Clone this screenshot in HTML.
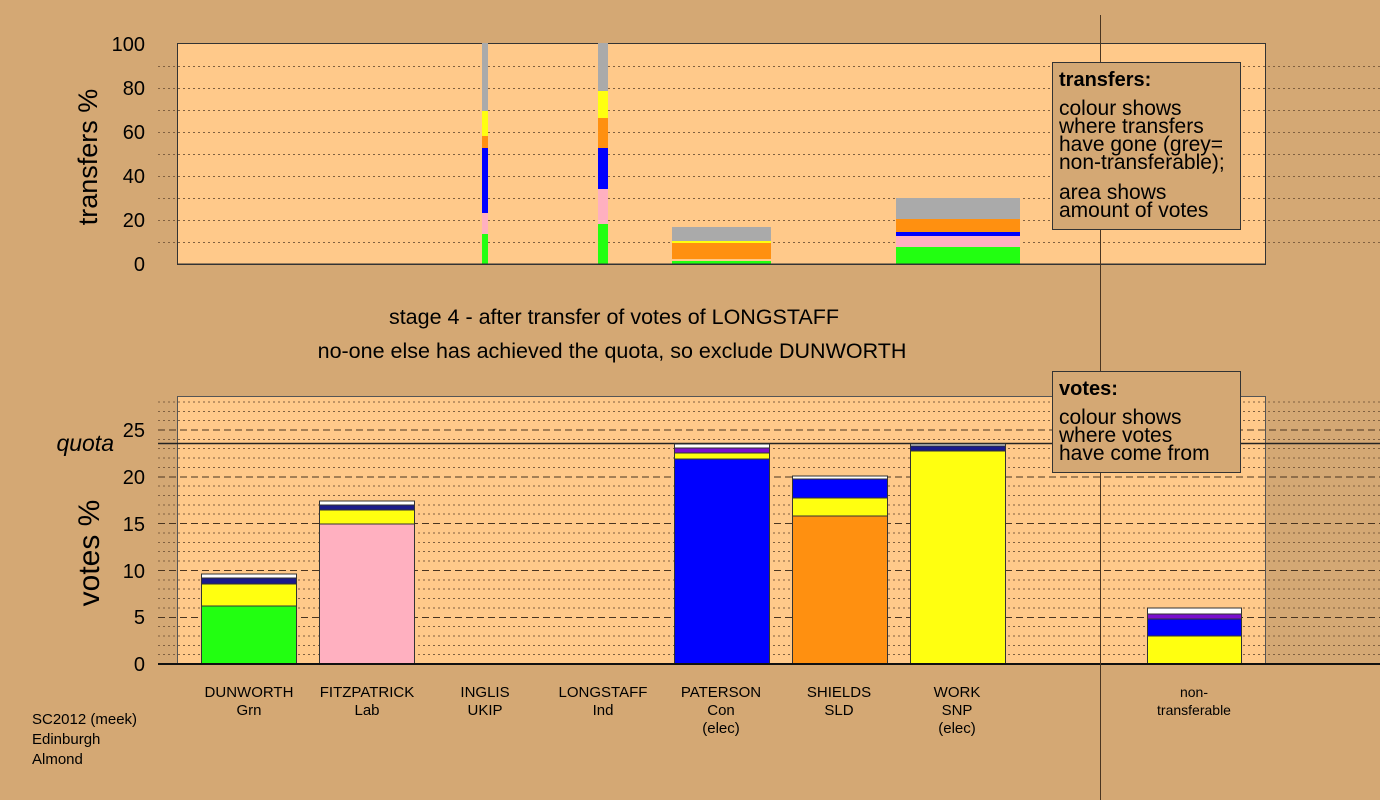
<!DOCTYPE html>
<html><head><meta charset="utf-8"><style>
html,body{margin:0;padding:0;background:#d4a874;}
svg{display:block;font-family:"Liberation Sans",sans-serif;}
</style></head><body>
<svg width="1380" height="800" viewBox="0 0 1380 800" xmlns="http://www.w3.org/2000/svg">
<rect width="1380" height="800" fill="#d4a874"/>
<rect x="177" y="43" width="1088" height="221" fill="#ffc98a"/>
<g stroke="#806040" stroke-width="1" stroke-dasharray="2,3">
<line x1="158" x2="1380" y1="242.5" y2="242.5"/><line x1="158" x2="1380" y1="220.5" y2="220.5"/>
<line x1="158" x2="1380" y1="198.5" y2="198.5"/><line x1="158" x2="1380" y1="176.5" y2="176.5"/>
<line x1="158" x2="1380" y1="154.5" y2="154.5"/><line x1="158" x2="1380" y1="132.5" y2="132.5"/>
<line x1="158" x2="1380" y1="110.5" y2="110.5"/><line x1="158" x2="1380" y1="88.5" y2="88.5"/>
<line x1="158" x2="1380" y1="66.5" y2="66.5"/>
</g>
<rect x="177.5" y="43.5" width="1088" height="221" fill="none" stroke="#333" stroke-width="1"/>
<rect x="482" y="234" width="6" height="30" fill="#22ff11"/>
<rect x="482" y="213" width="6" height="21" fill="#ffb0c0"/>
<rect x="482" y="148" width="6" height="65" fill="#0000ff"/>
<rect x="482" y="136" width="6" height="12" fill="#ff9010"/>
<rect x="482" y="111" width="6" height="25" fill="#ffff10"/>
<rect x="482" y="43" width="6" height="68" fill="#aaaaaa"/>
<rect x="598" y="224" width="10" height="40" fill="#22ff11"/>
<rect x="598" y="189" width="10" height="35" fill="#ffb0c0"/>
<rect x="598" y="148" width="10" height="41" fill="#0000ff"/>
<rect x="598" y="118" width="10" height="30" fill="#ff9010"/>
<rect x="598" y="91" width="10" height="27" fill="#ffff10"/>
<rect x="598" y="43" width="10" height="48" fill="#aaaaaa"/>
<rect x="672" y="261" width="99" height="3" fill="#22ff11"/>
<rect x="672" y="243" width="99" height="16" fill="#ff9010"/>
<rect x="672" y="241" width="99" height="2" fill="#ffff10"/>
<rect x="672" y="227" width="99" height="14" fill="#aaaaaa"/>
<rect x="896" y="247" width="124" height="17" fill="#22ff11"/>
<rect x="896" y="236" width="124" height="11" fill="#ffb0c0"/>
<rect x="896" y="232" width="124" height="4" fill="#0000ff"/>
<rect x="896" y="219" width="124" height="13" fill="#ff9010"/>
<rect x="896" y="198" width="124" height="21" fill="#aaaaaa"/>
<line x1="177" x2="1265" y1="264" y2="264" stroke="#333"/>
<g font-size="20" text-anchor="end" fill="#000">
<text x="145" y="271">0</text><text x="145" y="227">20</text><text x="145" y="183">40</text>
<text x="145" y="139">60</text><text x="145" y="95">80</text><text x="145" y="51">100</text>
</g>
<text transform="translate(97,157) rotate(-90)" font-size="27" text-anchor="middle">transfers %</text>
<text x="614" y="324" font-size="21.5" text-anchor="middle">stage 4 - after transfer of votes of LONGSTAFF</text>
<text x="612" y="358" font-size="21.5" text-anchor="middle">no-one else has achieved the quota, so exclude DUNWORTH</text>
<rect x="177" y="396" width="1088" height="268" fill="#ffc98a"/>
<g stroke="#806040" stroke-width="1" stroke-dasharray="2,3">
<line x1="158" x2="1380" y1="654.5" y2="654.5"/><line x1="158" x2="1380" y1="645.5" y2="645.5"/>
<line x1="158" x2="1380" y1="636" y2="636"/><line x1="158" x2="1380" y1="626.5" y2="626.5"/>
<line x1="158" x2="1380" y1="608" y2="608"/><line x1="158" x2="1380" y1="598.5" y2="598.5"/>
<line x1="158" x2="1380" y1="589" y2="589"/><line x1="158" x2="1380" y1="580" y2="580"/>
<line x1="158" x2="1380" y1="561" y2="561"/><line x1="158" x2="1380" y1="551.5" y2="551.5"/>
<line x1="158" x2="1380" y1="542.5" y2="542.5"/><line x1="158" x2="1380" y1="533" y2="533"/>
<line x1="158" x2="1380" y1="514" y2="514"/><line x1="158" x2="1380" y1="505" y2="505"/>
<line x1="158" x2="1380" y1="495.5" y2="495.5"/><line x1="158" x2="1380" y1="486" y2="486"/>
<line x1="158" x2="1380" y1="467.5" y2="467.5"/><line x1="158" x2="1380" y1="458" y2="458"/>
<line x1="158" x2="1380" y1="448.5" y2="448.5"/><line x1="158" x2="1380" y1="439.5" y2="439.5"/>
<line x1="158" x2="1380" y1="420.5" y2="420.5"/><line x1="158" x2="1380" y1="411.5" y2="411.5"/>
<line x1="158" x2="1380" y1="402" y2="402"/>
</g>
<g stroke="#4a3520" stroke-width="1" stroke-dasharray="7,4">
<line x1="158" x2="1380" y1="617.5" y2="617.5"/><line x1="158" x2="1380" y1="570.5" y2="570.5"/>
<line x1="158" x2="1380" y1="523.5" y2="523.5"/><line x1="158" x2="1380" y1="477" y2="477"/>
<line x1="158" x2="1380" y1="430" y2="430"/>
</g>
<rect x="177.5" y="396.5" width="1088" height="268" fill="none" stroke="#555" stroke-width="1"/>
<line x1="158" x2="1380" y1="443.5" y2="443.5" stroke="#222" stroke-width="1.5"/>
<g stroke="#333" stroke-width="1">
<rect x="201.5" y="606" width="95" height="58" fill="#22ff11"/>
<rect x="201.5" y="584" width="95" height="22" fill="#ffff10"/>
<rect x="201.5" y="578" width="95" height="6" fill="#1a1a8a"/>
<rect x="201.5" y="574" width="95" height="4" fill="#ffffff"/>
<rect x="319.5" y="524" width="95" height="140" fill="#ffb0c0"/>
<rect x="319.5" y="510" width="95" height="14" fill="#ffff10"/>
<rect x="319.5" y="505" width="95" height="5" fill="#1a1a8a"/>
<rect x="319.5" y="501" width="95" height="4" fill="#ffffff"/>
<rect x="674.5" y="459" width="95" height="205" fill="#0000ff"/>
<rect x="674.5" y="453" width="95" height="6" fill="#ffff10"/>
<rect x="674.5" y="448" width="95" height="5" fill="#7a10d0"/>
<rect x="674.5" y="444" width="95" height="4" fill="#ffffff"/>
<rect x="792.5" y="516" width="95" height="148" fill="#ff9010"/>
<rect x="792.5" y="498" width="95" height="18" fill="#ffff10"/>
<rect x="792.5" y="479" width="95" height="19" fill="#0000ff"/>
<rect x="792.5" y="476" width="95" height="3" fill="#ffffff"/>
<rect x="910.5" y="451" width="95" height="213" fill="#ffff10"/>
<rect x="910.5" y="446" width="95" height="5" fill="#1a1a8a"/>
<rect x="910.5" y="444" width="95" height="2" fill="#ffffff"/>
<rect x="1147.5" y="636" width="94" height="28" fill="#ffff10"/>
<rect x="1147.5" y="619" width="94" height="17" fill="#0000ff"/>
<rect x="1147.5" y="614" width="94" height="5" fill="#7a10d0"/>
<rect x="1147.5" y="608" width="94" height="6" fill="#ffffff"/>
</g>
<line x1="158" x2="1380" y1="664" y2="664" stroke="#111" stroke-width="2"/>
<g font-size="20" text-anchor="end">
<text x="145" y="671">0</text><text x="145" y="624">5</text><text x="145" y="578">10</text>
<text x="145" y="531">15</text><text x="145" y="484">20</text><text x="145" y="437">25</text>
</g>
<text x="114" y="451" font-size="23" font-style="italic" text-anchor="end">quota</text>
<text transform="translate(99,553) rotate(-90)" font-size="30" text-anchor="middle">votes %</text>
<g font-size="15" text-anchor="middle">
<text x="249" y="697">DUNWORTH</text><text x="249" y="715">Grn</text>
<text x="367" y="697">FITZPATRICK</text><text x="367" y="715">Lab</text>
<text x="485" y="697">INGLIS</text><text x="485" y="715">UKIP</text>
<text x="603" y="697">LONGSTAFF</text><text x="603" y="715">Ind</text>
<text x="721" y="697">PATERSON</text><text x="721" y="715">Con</text><text x="721" y="733">(elec)</text>
<text x="839" y="697">SHIELDS</text><text x="839" y="715">SLD</text>
<text x="957" y="697">WORK</text><text x="957" y="715">SNP</text><text x="957" y="733">(elec)</text>
<text x="1194" y="697" font-size="14">non-</text><text x="1194" y="715" font-size="14">transferable</text>
</g>
<g font-size="15">
<text x="32" y="724">SC2012 (meek)</text><text x="32" y="744">Edinburgh</text><text x="32" y="764">Almond</text>
</g>
<line x1="1100.5" x2="1100.5" y1="15" y2="800" stroke="#4a3520" stroke-width="1"/>
<rect x="1052.5" y="62.5" width="188" height="167" fill="#d4a874" stroke="#333"/>
<g font-size="21">
<text x="1059" y="86" font-weight="bold" font-size="20">transfers:</text>
<text x="1059" y="115">colour shows</text>
<text x="1059" y="133">where transfers</text>
<text x="1059" y="151">have gone (grey=</text>
<text x="1059" y="169">non-transferable);</text>
<text x="1059" y="199">area shows</text>
<text x="1059" y="217">amount of votes</text>
</g>
<rect x="1052.5" y="371.5" width="188" height="101" fill="#d4a874" stroke="#333"/>
<g font-size="21">
<text x="1059" y="395" font-weight="bold" font-size="20">votes:</text>
<text x="1059" y="424">colour shows</text>
<text x="1059" y="442">where votes</text>
<text x="1059" y="460">have come from</text>
</g>
</svg>
</body></html>
